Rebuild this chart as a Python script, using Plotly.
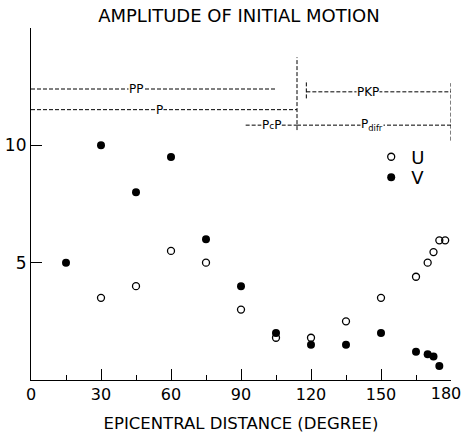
import plotly.graph_objects as go

# ---- data ----
u_dist = [30, 45, 60, 75, 90, 105, 120, 135, 150, 165, 170, 172.5, 175, 177.5]
u_amp = [3.5, 4.0, 5.5, 5.0, 3.0, 1.8, 1.8, 2.5, 3.5, 4.4, 5.0, 5.45, 5.95, 5.95]
v_dist = [15, 30, 45, 60, 75, 90, 105, 120, 135, 150, 165, 170, 172.5, 175]
v_amp = [5.0, 10.0, 8.0, 9.5, 6.0, 4.0, 2.0, 1.5, 1.5, 2.0, 1.2, 1.1, 1.0, 0.6]

# phase ranges (dashed guide lines): x0, x1, y0, y1
seg_x0 = [0, 0, 114, 92, 114, 118, 118, 180]
seg_x1 = [105, 114, 114, 114, 180, 180, 118, 180]
seg_y0 = [12.4, 11.52, 10.65, 10.86, 10.86, 12.28, 12.0, 10.2]
seg_y1 = [12.4, 11.52, 13.75, 10.86, 10.86, 12.28, 12.77, 12.65]

phase_labels = ["PP", "P", "P<span style='font-size:9px'>c</span>P", "PKP", "P<sub>difr</sub>"]
phase_label_x = [45, 55, 103, 144.5, 146]
phase_label_y = [12.4, 11.52, 10.86, 12.28, 10.86]

x_ticks = [0, 30, 60, 90, 120, 150, 180]
x_ticktext = ["0", "30", "60", "90", "120", "150", "180"]
y_ticks = [5, 10]

FONT = "DejaVu Sans"

fig = go.Figure()

# dashed phase lines
lx, ly = [], []
for a, b, c, d in zip(seg_x0, seg_x1, seg_y0, seg_y1):
    lx += [a, b, None]
    ly += [c, d, None]
fig.add_trace(go.Scatter(x=lx, y=ly, mode="lines", showlegend=False,
                         line=dict(color="black", width=1, dash="4px,2px"),
                         hoverinfo="skip", cliponaxis=False))

fig.add_trace(go.Scatter(x=u_dist, y=u_amp, mode="markers", name="U", legend="legend",
                         marker=dict(symbol="circle-open", size=7, color="black",
                                     line=dict(width=1.3, color="black")),
                         cliponaxis=False))
fig.add_trace(go.Scatter(x=v_dist, y=v_amp, mode="markers", name="V", legend="legend2",
                         marker=dict(symbol="circle", size=8, color="black"),
                         cliponaxis=False))
# invisible trace so the overlay axis (carrying the last, edge tick label) is drawn
fig.add_trace(go.Scatter(x=[x_ticks[-1]], y=[0], xaxis="x2", mode="markers",
                         marker=dict(opacity=0), showlegend=False, hoverinfo="skip"))

for t, x, y in zip(phase_labels, phase_label_x, phase_label_y):
    fig.add_annotation(x=x, y=y, text=t, showarrow=False, bgcolor="white",
                       borderpad=0, font=dict(family=FONT, size=12, color="black"))

leg_common = dict(xanchor="left", yanchor="top", bgcolor="rgba(0,0,0,0)",
                  font=dict(family=FONT, size=18, color="black"), itemwidth=30)

tickfont = dict(family=FONT, size=16, color="black")

fig.update_layout(
    width=463, height=439,
    margin=dict(l=31, r=12, t=28, b=59, autoexpand=False),
    paper_bgcolor="white", plot_bgcolor="white",
    font=dict(family=FONT, color="black"),
    title=dict(text="AMPLITUDE OF INITIAL MOTION", x=0.516, xref="container",
               y=1 - 16 / 439, yref="container", xanchor="center", yanchor="middle",
               font=dict(family=FONT, size=18, color="black")),
    legend=dict(x=0.81, y=0.686, **leg_common),
    legend2=dict(x=0.81, y=0.628, **leg_common),
    showlegend=True,
    xaxis2=dict(range=[0, 180], overlaying="x", anchor="y", side="bottom",
                tickvals=x_ticks[-1:], ticktext=x_ticktext[-1:], ticks="",
                showline=False, showgrid=False, zeroline=False, automargin=False,
                ticklabelshift=-5, ticklabelstandoff=2, ticklabeloverflow="allow",
                tickfont=tickfont),
)

fig.layout.xaxis.update(
    range=[0, 180], tickvals=x_ticks, ticktext=x_ticktext[:-1] + [""],
    showline=True, linecolor="black", linewidth=1.2, automargin=False,
    ticks="inside", ticklen=11, tickcolor="black", tickwidth=1.2,
    minor=dict(dtick=15, tick0=15, ticks="inside", ticklen=5,
               tickcolor="black", tickwidth=1, showgrid=False),
    showgrid=False, zeroline=False, ticklabeloverflow="allow",
    tickfont=tickfont,
    title=dict(text="EPICENTRAL DISTANCE (DEGREE)", standoff=14,
               font=dict(family=FONT, size=16.5, color="black")))
fig.update_yaxes(range=[0, 15], tickvals=y_ticks, ticktext=[str(v) for v in y_ticks],
                 showline=True, linecolor="black", linewidth=1.2, automargin=False,
                 ticks="inside", ticklen=11, tickcolor="black", tickwidth=1.2,
                 showgrid=False, zeroline=False,
                 tickfont=dict(family=FONT, size=17, color="black"))

fig.write_html("out.html")
